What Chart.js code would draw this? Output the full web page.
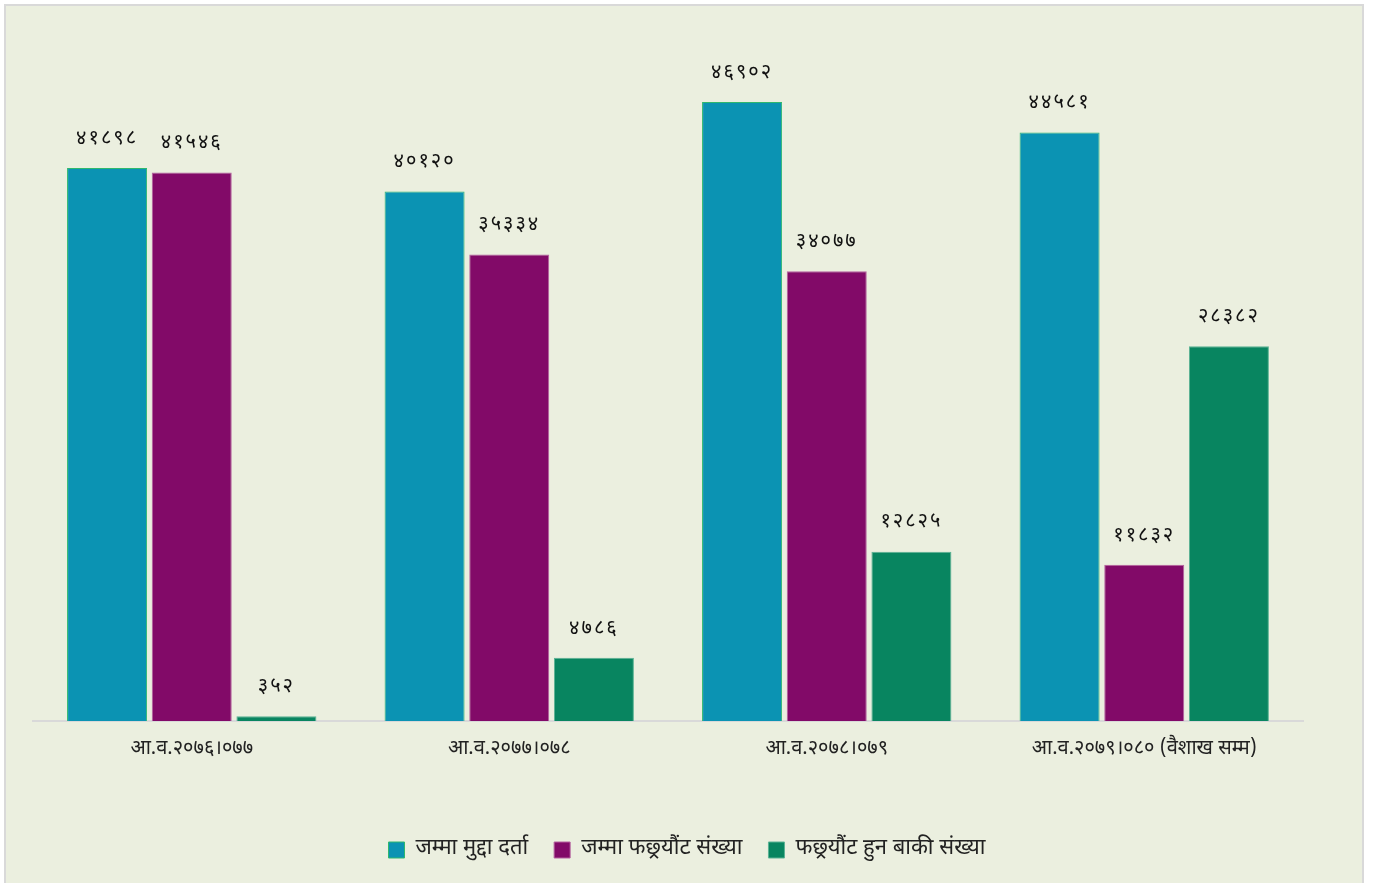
<!DOCTYPE html>
<html>
<head>
<meta charset="utf-8">
<script src="https://cdn.jsdelivr.net/npm/chart.js@4.4.0/dist/chart.umd.min.js"></script>
<style>
  html, body { margin: 0; padding: 0; background: #fff; }
  .card {
    position: absolute; left: 4px; top: 4px;
    width: 1356px; height: 885px;
    border: 2px solid #d9d9d9;
    background: #ebefdf;
  }
  #bars { display: block; }
</style>
</head>
<body>
<div class="card"><canvas id="bars" width="1356" height="877"></canvas></div>
<script>
// years (fiscal)
const years = ['आ.व.२०७६।०७७', 'आ.व.२०७७।०७८', 'आ.व.२०७८।०७९', 'आ.व.२०७९।०८० (वैशाख सम्म)'];
const registered = [41898, 40120, 46902, 44581];
const settled = [41546, 35334, 34077, 11832];
const pending = [352, 4786, 12825, 28382];
const seriesNames = ['जम्मा मुद्दा दर्ता', 'जम्मा फछ्र्यौंट संख्या', 'फछ्र्यौंट हुन बाकी संख्या'];

const nepDigits = '०१२३४५६७८९';
function toNepali(n) {
  return String(n).replace(/[0-9]/g, d => nepDigits[d]);
}

const devFont = "'Noto Sans Devanagari', 'Lohit Devanagari', 'FreeSans', 'Noto Sans', sans-serif";

// labels above bars, no plugin lib available offline
const topLabels = {
  id: 'topLabels',
  afterDatasetsDraw(chart) {
    const ctx = chart.ctx;
    ctx.save();
    ctx.font = '20px ' + devFont;
    ctx.letterSpacing = '2px';
    ctx.fillStyle = '#111';
    ctx.textAlign = 'center';
    ctx.textBaseline = 'bottom';
    chart.data.datasets.forEach((ds, i) => {
      chart.getDatasetMeta(i).data.forEach((bar, j) => {
        ctx.fillText(toNepali(ds.data[j]), bar.x, bar.y - 18);
      });
    });
    ctx.restore();
  }
};

const barsCtx = document.getElementById('bars');
window.myBars = new Chart(barsCtx, {
  type: 'bar',
  data: {
    labels: years,
    datasets: [
      { label: seriesNames[0], data: registered, backgroundColor: '#0b93b3', borderColor: '#2fb86e', borderWidth: 1 },
      { label: seriesNames[1], data: settled, backgroundColor: '#820a68', borderColor: '#b5619f', borderWidth: 1 },
      { label: seriesNames[2], data: pending, backgroundColor: '#088560', borderColor: '#5ab394', borderWidth: 1 },
    ],
  },
  options: {
    responsive: false,
    animation: false,
    layout: { padding: { left: 27, right: 21, top: 55, bottom: 12 } },
    datasets: { bar: { categoryPercentage: 0.8, barPercentage: 0.945 } },
    scales: {
      x: {
        grid: { display: false },
        border: { display: true, color: '#d9d9d9', width: 2 },
        ticks: { color: '#222', font: { size: 20, family: devFont }, padding: 9 },
        afterFit(scale) { scale.height += 42; },
      },
      y: { display: false, min: 0, max: 50000 },
      // empty right axis, just keeps space so the legend stays centred
      yRight: {
        axis: 'y', position: 'right', min: 0, max: 1,
        grid: { display: false }, border: { display: false }, ticks: { display: false },
        afterFit(scale) { scale.width = 38; },
      },
    },
    plugins: {
      tooltip: { enabled: false },
      legend: {
        position: 'bottom',
        labels: {
          color: '#222',
          font: { size: 22, family: devFont },
          boxWidth: 16, boxHeight: 16,
          padding: 26,
        },
      },
    },
  },
  plugins: [topLabels],
});
</script>
</body>
</html>
